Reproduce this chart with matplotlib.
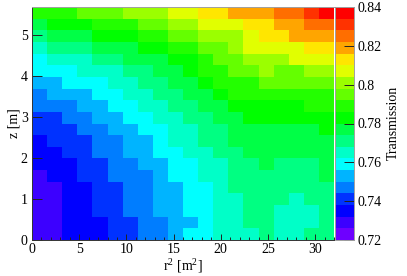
import numpy as np
import matplotlib
matplotlib.use("Agg")
import matplotlib.pyplot as plt
from matplotlib.colors import ListedColormap

plt.rcParams.update({
    "font.size": 10,
    "font.family": "Liberation Serif",
    "mathtext.default": "regular",
})

# transmission per bin, in 1/1000, bottom row first
row_00 = [729, 729, 735, 735, 735, 741, 741, 747, 747, 753, 759, 759, 765, 765, 765, 771, 765, 765, 771, 771]
row_01 = [729, 729, 735, 735, 735, 741, 741, 747, 747, 753, 753, 759, 765, 765, 771, 771, 765, 765, 765, 771]
row_02 = [729, 729, 735, 735, 741, 741, 747, 747, 753, 753, 759, 759, 765, 765, 771, 771, 765, 765, 765, 771]
row_03 = [729, 729, 735, 735, 741, 741, 747, 747, 753, 753, 759, 759, 765, 765, 771, 771, 771, 765, 771, 771]
row_04 = [729, 729, 735, 735, 741, 741, 747, 747, 753, 753, 759, 759, 765, 771, 771, 771, 771, 771, 771, 771]
row_05 = [729, 735, 735, 741, 741, 747, 747, 747, 753, 759, 759, 765, 765, 771, 771, 771, 771, 771, 771, 777]
row_06 = [735, 735, 735, 741, 741, 747, 747, 753, 753, 759, 759, 765, 765, 771, 771, 777, 771, 771, 771, 777]
row_07 = [735, 735, 741, 741, 747, 747, 753, 753, 759, 759, 765, 765, 771, 771, 777, 777, 777, 777, 777, 777]
row_08 = [735, 741, 741, 741, 747, 747, 753, 753, 759, 765, 765, 771, 771, 777, 777, 777, 777, 777, 777, 777]
row_09 = [741, 741, 741, 747, 747, 753, 753, 759, 759, 765, 765, 771, 771, 777, 777, 777, 777, 777, 777, 783]
row_10 = [741, 741, 747, 747, 753, 753, 759, 759, 765, 765, 771, 771, 777, 777, 783, 783, 783, 783, 783, 783]
row_11 = [747, 747, 747, 753, 753, 759, 759, 765, 765, 771, 771, 777, 777, 783, 783, 783, 783, 783, 789, 789]
row_12 = [747, 753, 753, 753, 759, 759, 765, 765, 771, 771, 777, 777, 783, 789, 789, 789, 789, 789, 789, 789]
row_13 = [753, 753, 759, 759, 759, 765, 765, 771, 771, 777, 777, 783, 789, 789, 789, 795, 795, 795, 795, 795]
row_14 = [759, 759, 759, 765, 765, 765, 771, 771, 777, 777, 783, 789, 789, 795, 795, 801, 795, 795, 801, 801]
row_15 = [759, 765, 765, 765, 771, 771, 777, 777, 777, 783, 783, 789, 795, 795, 801, 801, 801, 807, 807, 807]
row_16 = [765, 771, 771, 771, 777, 777, 777, 783, 783, 789, 789, 795, 795, 801, 807, 807, 807, 807, 813, 813]
row_17 = [771, 777, 777, 777, 783, 783, 783, 789, 789, 795, 795, 801, 801, 801, 807, 813, 813, 819, 819, 819]
row_18 = [777, 783, 783, 783, 789, 789, 789, 795, 795, 801, 801, 807, 807, 807, 813, 813, 819, 819, 825, 825]
row_19 = [789, 789, 789, 795, 795, 795, 801, 801, 801, 807, 807, 813, 813, 819, 819, 819, 825, 825, 831, 837]

x_ticks = [0, 5, 10, 15, 20, 25, 30]
y_ticks = [0, 1, 2, 3, 4, 5]
cbar_ticks = [0.72, 0.74, 0.76, 0.78, 0.80, 0.82, 0.84]
cbar_labels = ["0.72", "0.74", "0.76", "0.78", "0.8", "0.82", "0.84"]

# palette bands, lowest first
band_colors = [
    "#6e00ff", "#3c00ff", "#0000ff", "#0032ff", "#007dff",
    "#00b4ff", "#00ffff", "#00ffc8", "#00ff82", "#00ff46",
    "#00ff00", "#23ff00", "#64ff00", "#9bff00", "#e1ff00",
    "#ffe600", "#ffa500", "#ff6e00", "#ff3200", "#ff0000",
]

W, H = 407, 276
transmission = np.array([
    row_00, row_01, row_02, row_03, row_04, row_05, row_06, row_07, row_08, row_09,
    row_10, row_11, row_12, row_13, row_14, row_15, row_16, row_17, row_18, row_19,
]) / 1000.0
x_edges = np.linspace(0, 32, 21)
y_edges = np.linspace(0, 5.68, 21)

fig = plt.figure(figsize=(W / 100, H / 100), dpi=100)
ax = fig.add_axes([32 / W, 1 - 240 / H, 302 / W, 233 / H])
cax = fig.add_axes([335.3 / W, 1 - 240 / H, 19 / W, 233 / H])

cmap = ListedColormap(band_colors)
mesh = ax.pcolormesh(x_edges, y_edges, transmission, cmap=cmap, vmin=0.72, vmax=0.84)

ax.set_xlim(0, 32)
ax.set_ylim(0, 5.68)
ax.set_xticks(x_ticks)
ax.set_yticks(y_ticks)
ax.set_xticks(np.arange(0, 33, 1), minor=True)
ax.tick_params(axis="x", which="major", direction="in", length=4, width=0.7, pad=2.5, color="#222222")
ax.tick_params(axis="x", which="minor", direction="in", length=2, width=0.7, color="#222222")
ax.tick_params(axis="y", which="major", direction="in", length=7, width=0.7, pad=3, color="#222222")
ax.spines["top"].set_color("#a0a0a0")
ax.spines["right"].set_visible(False)
for side in ["left", "bottom"]:
    ax.spines[side].set_color("#333333")
for s in ax.spines.values():
    s.set_linewidth(0.7)
ax.set_ylabel("z [m]", fontsize=10, labelpad=0)
fig.text(183 / W, 1 - 266 / H, "r$^2$ [m$^2$]", ha="center", va="center", fontsize=10)

cbar = fig.colorbar(mesh, cax=cax, ticks=cbar_ticks)
cbar.ax.set_yticklabels(cbar_labels)
cbar.ax.tick_params(direction="in", length=7, width=0.7, pad=2, color="#222222")
cbar.outline.set_edgecolor("#a0a0a0")
cbar.outline.set_linewidth(0.7)
fig.text(393 / W, 1 - 123 / H, "Transmission", rotation=90, ha="center", va="center", fontsize=10)

fig.savefig("out.png", dpi=100)
